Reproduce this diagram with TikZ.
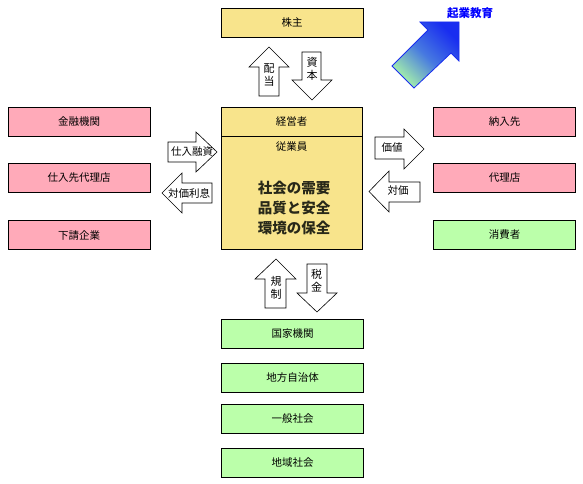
\documentclass[tikz,border=0pt]{standalone}
\usepackage{fontspec}
\newfontfamily\jp{Noto Sans CJK JP}
\definecolor{boxyellow}{RGB}{248,228,140}
\definecolor{boxpink}{RGB}{255,170,185}
\definecolor{boxgreen}{RGB}{187,255,170}
\definecolor{arrowblue}{RGB}{25,45,240}
\definecolor{arrowgreen}{RGB}{165,240,170}
\begin{document}
\begin{tikzpicture}[x=1pt,y=-1pt,
  every node/.style={font=\jp\fontsize{10.5}{13}\selectfont, inner sep=0pt},
  box/.style={draw=black, line width=0.8pt, minimum width=142pt, minimum height=29pt},
  ybox/.style={box, fill=boxyellow},
  pbox/.style={box, fill=boxpink},
  gbox/.style={box, fill=boxgreen},
  blockarrow/.style={draw=black, line width=0.6pt, fill=white, line join=miter},
  vlabel/.style={align=center, font=\jp\fontsize{11}{13}\selectfont},
  bigtext/.style={font=\jp\bfseries\fontsize{14.5}{20}\selectfont, text={rgb,255:red,40;green,40;blue,25}}
]
\useasboundingbox (0,0) rectangle (583,484);

% top
\node[ybox] (kabunushi) at (292,22.5) {株主};

% main box
\draw[fill=boxyellow, line width=0.8pt] (221,107) rectangle (362,249);
\draw[line width=0.8pt] (221,136) -- (362,136);
\coordinate (main) at (291.5,178);
\node (keiei) at (291.5,121.5) {経営者};
\node (jugyo) at (291.5,147) {従業員};
\node[bigtext] (l1) at (294,188) {社会の需要};
\node[bigtext] (l2) at (294,208) {品質と安全};
\node[bigtext] (l3) at (294,228) {環境の保全};

% left boxes
\node[pbox] (kinyu) at (79,121.5) {金融機関};
\node[pbox] (shiire) at (79,178) {仕入先代理店};
\node[pbox] (shitauke) at (79,235) {下請企業};

% right boxes
\node[pbox] (nonyu) at (504.5,121.5) {納入先};
\node[pbox] (dairi) at (504.5,178) {代理店};
\node[gbox] (shohi) at (504.5,235) {消費者};

% bottom boxes
\node[gbox] (kokka) at (292.5,334) {国家機関};
\node[gbox] (chiho) at (292.5,377.5) {地方自治体};
\node[gbox] (ippan) at (292.5,419) {一般社会};
\node[gbox] (chiiki) at (292.5,462.5) {地域社会};

% top arrows
\draw[blockarrow] (259,96) -- (259,67) -- (249,67) -- (269,47) -- (289,67) -- (279,67) -- (279,96) -- cycle;
\node[vlabel] (haito) at (269,75.5) {配\\当};
\draw[blockarrow] (302,52) -- (321,52) -- (321,80) -- (332,80) -- (312,100) -- (292,80) -- (302,80) -- cycle;
\node[vlabel] (shihon) at (312,69) {資\\本};

% left arrows
\draw[blockarrow] (168,142) -- (196,142) -- (196,132) -- (217,152) -- (196,172) -- (196,162) -- (168,162) -- cycle;
\node (yushi) at (192,152) {仕入融資};
\draw[blockarrow] (212,183) -- (182,183) -- (182,173) -- (162,193) -- (182,213) -- (182,203) -- (212,203) -- cycle;
\node (rishi) at (189,193) {対価利息};

% right arrows
\draw[blockarrow] (375,137) -- (404,137) -- (404,129) -- (424,149) -- (404,169) -- (404,159) -- (375,159) -- cycle;
\node (kachi) at (392,148) {価値};
\draw[blockarrow] (420,182) -- (389,182) -- (389,171) -- (369,191.5) -- (389,212) -- (389,202) -- (420,202) -- cycle;
\node (taika) at (398,191) {対価};

% bottom arrows
\draw[blockarrow] (265,308) -- (265,279) -- (255,279) -- (276,259) -- (296,279) -- (286,279) -- (286,308) -- cycle;
\node[vlabel] (kisei) at (276,287.5) {規\\制};
\draw[blockarrow] (307,264) -- (327,264) -- (327,293) -- (337,293) -- (317,312) -- (297,293) -- (307,293) -- cycle;
\node[vlabel] (zeikin) at (316.5,280.5) {税\\金};

% blue arrow
\shadedraw[draw=arrowblue, line width=0.8pt, top color=arrowblue, bottom color=arrowgreen, middle color={rgb,255:red,70;green,120;blue,225}, shading angle=-45]
  (459,22) -- (420,22) -- (428,30) -- (392,66) -- (414,88) -- (451,53) -- (459,61) -- cycle;
\node[font=\jp\bfseries\fontsize{11.5}{13}\selectfont, text={rgb,255:red,0;green,0;blue,255}] (kigyo) at (470,13) {起業教育};
\end{tikzpicture}
\end{document}
